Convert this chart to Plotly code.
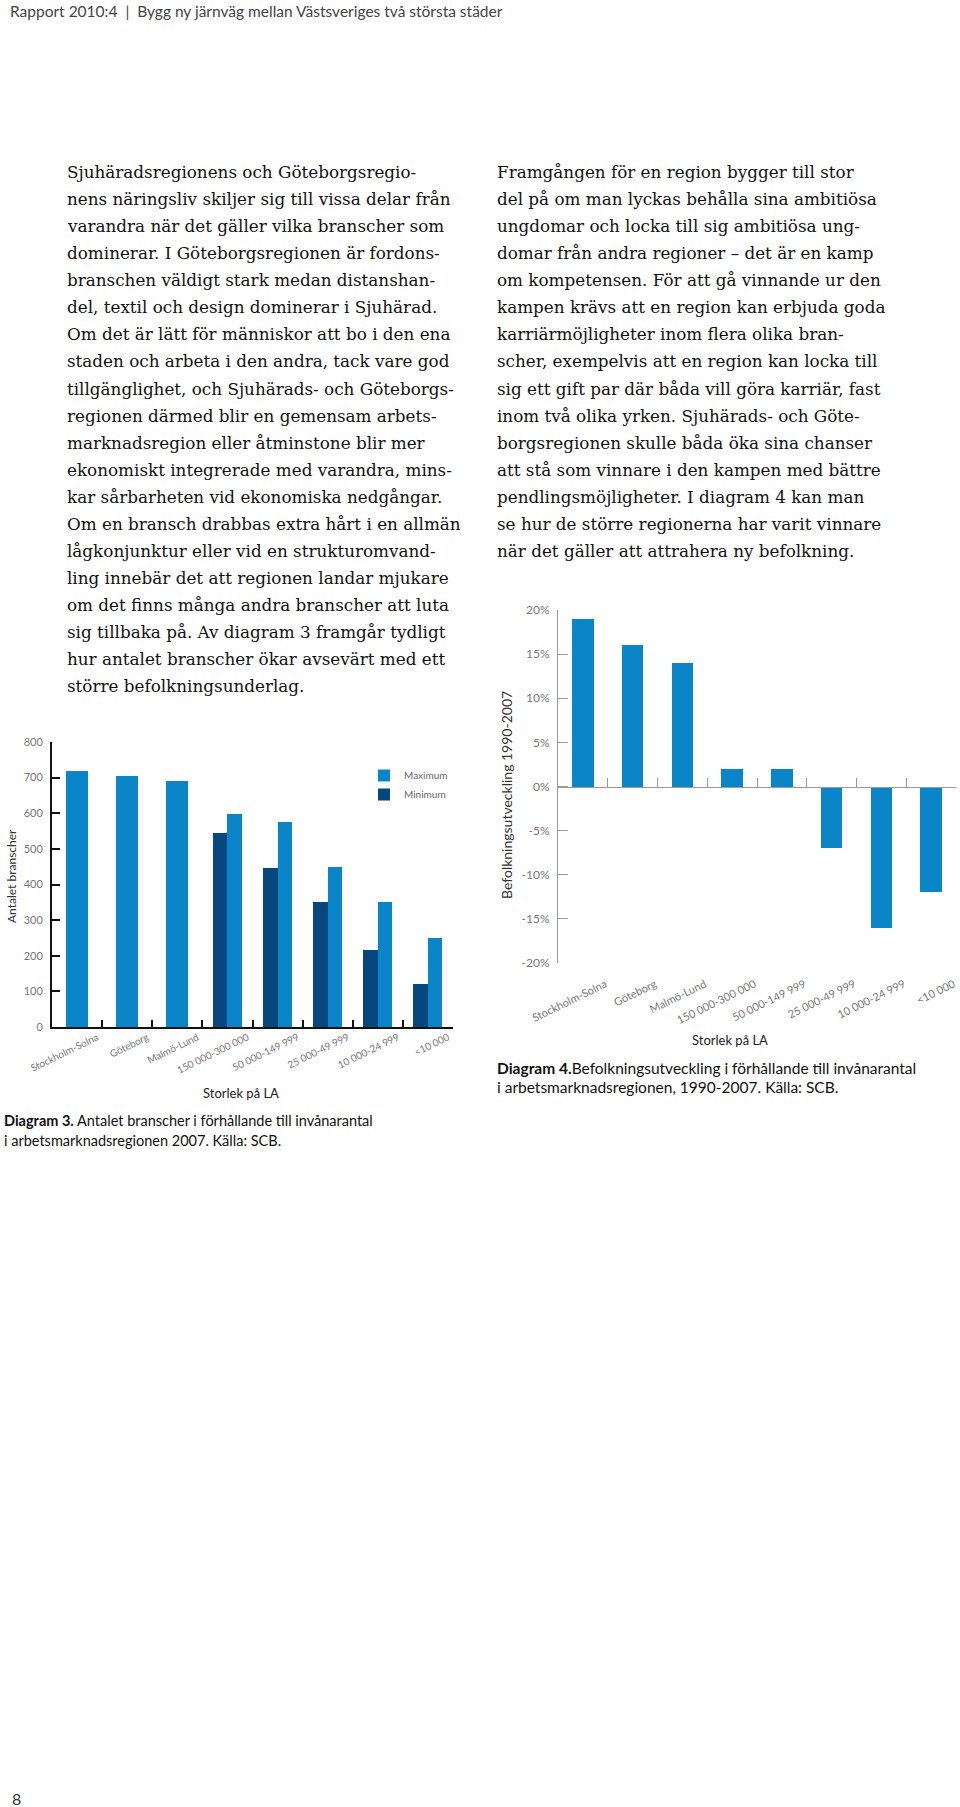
import plotly.graph_objects as go

# ---------------- data ----------------
categories = ["Stockholm-Solna", "Göteborg", "Malmö-Lund", "150 000-300 000",
              "50 000-149 999", "25 000-49 999", "10 000-24 999", "<10 000"]
branscher_max = [720, 704, 691, 599, 575, 449, 350, 251]
branscher_min = [None, None, None, 544, 445, 351, 216, 120]
befolkning_pct = [19, 16, 14, 2, 2, -7, -16, -12]

y1_ticks = [0, 100, 200, 300, 400, 500, 600, 700, 800]
y2_ticks = [-20, -15, -10, -5, 0, 5, 10, 15, 20]
y2_ticktext = ["-20%", "-15%", "-10%", "-5%", "0%", "5%", "10%", "15%", "20%"]

header = "Rapport 2010:4  |  Bygg ny järnväg mellan Västsveriges två största städer"
left_text = [
    "Sjuhäradsregionens och Göteborgsregio-",
    "nens näringsliv skiljer sig till vissa delar från",
    "varandra när det gäller vilka branscher som",
    "dominerar. I Göteborgsregionen är fordons-",
    "branschen väldigt stark medan distanshan-",
    "del, textil och design dominerar i Sjuhärad.",
    "Om det är lätt för människor att bo i den ena",
    "staden och arbeta i den andra, tack vare god",
    "tillgänglighet, och Sjuhärads- och Göteborgs-",
    "regionen därmed blir en gemensam arbets-",
    "marknadsregion eller åtminstone blir mer",
    "ekonomiskt integrerade med varandra, mins-",
    "kar sårbarheten vid ekonomiska nedgångar.",
    "Om en bransch drabbas extra hårt i en allmän",
    "lågkonjunktur eller vid en strukturomvand-",
    "ling innebär det att regionen landar mjukare",
    "om det finns många andra branscher att luta",
    "sig tillbaka på. Av diagram 3 framgår tydligt",
    "hur antalet branscher ökar avsevärt med ett",
    "större befolkningsunderlag.",
]
right_text = [
    "Framgången för en region bygger till stor",
    "del på om man lyckas behålla sina ambitiösa",
    "ungdomar och locka till sig ambitiösa ung-",
    "domar från andra regioner – det är en kamp",
    "om kompetensen. För att gå vinnande ur den",
    "kampen krävs att en region kan erbjuda goda",
    "karriärmöjligheter inom flera olika bran-",
    "scher, exempelvis att en region kan locka till",
    "sig ett gift par där båda vill göra karriär, fast",
    "inom två olika yrken. Sjuhärads- och Göte-",
    "borgsregionen skulle båda öka sina chanser",
    "att stå som vinnare i den kampen med bättre",
    "pendlingsmöjligheter. I diagram 4 kan man",
    "se hur de större regionerna har varit vinnare",
    "när det gäller att attrahera ny befolkning.",
]
caption3 = ["<b>Diagram 3.</b> Antalet branscher i förhållande till invånarantal",
            "i arbetsmarknadsregionen 2007. Källa: SCB."]
caption4 = ["<b>Diagram 4.</b>Befolkningsutveckling i förhållande till invånarantal",
            "i arbetsmarknadsregionen, 1990-2007. Källa: SCB."]

# ---------------- style ----------------
W, H = 960, 1807
MAXC = "#0a85c8"
MINC = "#07477f"
SANS = "Lato"
SERIF = "DejaVu Serif"

def fx(p):
    return p / W

def fy(p):
    return 1 - p / H

idx = list(range(len(categories)))
bound = [i + 0.5 for i in idx]

fig = go.Figure()

# Chart 1 (Diagram 3)
fig.add_trace(go.Bar(
    x=idx, y=branscher_max, name="Maximum", marker_color=MAXC, marker_line_width=0,
    width=[0.44 if m is None else 0.29 for m in branscher_min],
    offset=[-0.22 if m is None else 0.0 for m in branscher_min],
    xaxis="x", yaxis="y", hoverinfo="skip"))
fig.add_trace(go.Bar(
    x=idx, y=branscher_min, name="Minimum", marker_color=MINC, marker_line_width=0,
    width=0.29, offset=-0.29, xaxis="x", yaxis="y", hoverinfo="skip"))
# carrier for the boundary-tick axis of chart 1
fig.add_trace(go.Scatter(x=idx, y=[None] * len(idx), mode="markers", showlegend=False,
                         hoverinfo="skip", xaxis="x3", yaxis="y"))

# Chart 2 (Diagram 4)
fig.add_trace(go.Bar(
    x=idx, y=befolkning_pct, marker_color=MAXC, marker_line_width=0, width=0.43,
    showlegend=False, xaxis="x2", yaxis="y2", hoverinfo="skip"))
# carrier for the zero-line axis of chart 2
fig.add_trace(go.Scatter(x=idx, y=[None] * len(idx), mode="markers", showlegend=False,
                         hoverinfo="skip", xaxis="x4", yaxis="y2"))

x1dom = [fx(52), fx(453)]
y1dom = [fy(1027), fy(742)]
x2dom = [fx(558), fx(956)]
y2dom = [fy(963), fy(610)]

common = dict(automargin=False, showgrid=False, zeroline=False)

fig.update_layout(
    width=W, height=H, margin=dict(l=0, r=0, t=0, b=0, autoexpand=False),
    paper_bgcolor="white", plot_bgcolor="white",
    barmode="overlay", bargap=0,
    font=dict(family=SANS, color="#333"),
    legend=dict(x=fx(364), y=fy(761), xanchor="left", yanchor="top",
                font=dict(family=SANS, size=10, color="#666"),
                bgcolor="rgba(0,0,0,0)", traceorder="normal", tracegroupgap=0),
    xaxis=dict(domain=x1dom, anchor="y", range=[-0.5, 7.5],
               tickmode="array", tickvals=[i + 0.4 for i in idx], ticktext=categories,
               tickangle=-26, tickfont=dict(family=SANS, size=10, color="#777"),
               showline=False, ticks="", ticklabelstandoff=2, **common),
    xaxis3=dict(overlaying="x", anchor="y", range=[-0.5, 7.5],
                tickmode="array", tickvals=bound, ticks="inside", ticklen=7,
                tickwidth=1.5, tickcolor="#111", showticklabels=False,
                showline=True, linecolor="#111", linewidth=2, **common),
    yaxis=dict(domain=y1dom, anchor="x", range=[0, 800],
               tickmode="array", tickvals=y1_ticks, ticks="inside", ticklen=8,
               tickwidth=1.5, tickcolor="#111", showline=True, linecolor="#111",
               linewidth=2, tickfont=dict(family=SANS, size=11, color="#777"),
               ticklabelstandoff=5, **common),
    xaxis2=dict(domain=x2dom, anchor="y2", range=[-0.5, 7.5],
                tickmode="array", tickvals=[i + 0.45 for i in idx], ticktext=categories,
                tickangle=-26, tickfont=dict(family=SANS, size=11, color="#777"),
                showline=False, ticks="", ticklabelstandoff=12, **common),
    xaxis4=dict(overlaying="x2", anchor="free", position=(y2dom[0] + y2dom[1]) / 2,
                range=[-0.5, 7.5], tickmode="array", tickvals=bound,
                ticks="inside", ticklen=9, tickwidth=1, tickcolor="#999",
                showticklabels=False, showline=True, linecolor="#999", linewidth=1,
                **common),
    yaxis2=dict(domain=y2dom, anchor="x2", range=[-20, 20],
                tickmode="array", tickvals=y2_ticks, ticktext=y2_ticktext,
                ticks="inside", ticklen=10, tickwidth=1, tickcolor="#999",
                showline=True, linecolor="#999", linewidth=1,
                tickfont=dict(family=SANS, size=12, color="#777"),
                ticklabelstandoff=5, **common),
)

ann = []

def add_text(text, x, y, size, family=SANS, color="#222", xanchor="left", angle=0):
    ann.append(dict(text=text, x=fx(x), y=fy(y), xref="paper", yref="paper",
                    xanchor=xanchor, yanchor="middle", showarrow=False,
                    textangle=angle, font=dict(family=family, size=size, color=color)))

add_text(header, 8, 11, 15.5, color="#444")
for i, line in enumerate(left_text):
    add_text(line, 65, 172 + i * 27.07, 16.8, family=SERIF, color="#111")
for i, line in enumerate(right_text):
    add_text(line, 495, 172 + i * 27.07, 16.8, family=SERIF, color="#111")

add_text("Antalet branscher", 11, 876, 12, color="#333", xanchor="center", angle=-90)
add_text("Storlek på LA", 241, 1093, 13, color="#222", xanchor="center")
add_text(caption3[0], 2, 1120, 14.5, color="#111")
add_text(caption3[1], 2, 1140, 14.5, color="#111")

add_text("Befolkningsutveckling 1990-2007", 506, 795, 14, color="#333",
         xanchor="center", angle=-90)
add_text("Storlek på LA", 730, 1040, 13, color="#222", xanchor="center")
add_text(caption4[0], 495, 1068, 15.5, color="#111")
add_text(caption4[1], 495, 1087, 15.5, color="#111")

add_text("8", 10, 1798, 16, color="#333")

fig.update_layout(annotations=ann)
fig.write_html("out.html", config={"displayModeBar": False},
               post_script="document.body.style.margin='0px';")
